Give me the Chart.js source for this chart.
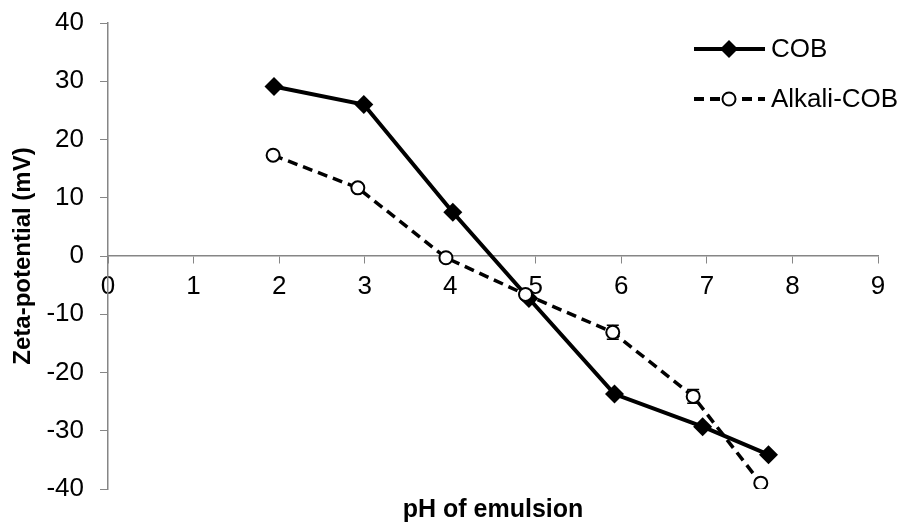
<!DOCTYPE html>
<html lang="en">
  <head>
    <meta charset="UTF-8" />
    <title>Zeta-potential vs pH</title>
    <script src="https://cdn.jsdelivr.net/npm/chart.js"></script>
    <style>
      html, body { margin: 0; padding: 0; background: #fff; }
      .wrap { width: 905px; height: 524px; position: relative; }
    </style>
  </head>
  <body>
    <div class="wrap"><canvas id="zeta"></canvas></div>
    <script>
      // data
      const seriesNames = ["COB", "Alkali-COB"]
      const phCOB = [1.94, 2.99, 4.03, 4.92, 5.92, 6.95, 7.72]
      const zetaCOB = [29.1, 26.0, 7.5, -7.3, -23.7, -29.3, -34.1]
      const phAlkali = [1.93, 2.92, 3.95, 4.88, 5.90, 6.84, 7.63]
      const zetaAlkali = [17.3, 11.7, -0.3, -6.6, -13.1, -24.1, -39.0]
      const errAlkali = [0, 0, 0, 0, 1.2, 1.2, 0]
      const xTicks = [0, 1, 2, 3, 4, 5, 6, 7, 8, 9]
      const yTicks = [-40, -30, -20, -10, 0, 10, 20, 30, 40]

      const axisGray = "#868686"
      const FONT = "'Liberation Sans', Arial, sans-serif"

      const toPoints = (xs, ys) => xs.map((x, i) => ({ x, y: ys[i] }))

      // small vertical error bars with caps
      const errorBars = {
        id: "errorBars",
        beforeDatasetsDraw(chart) {
          const { ctx, scales } = chart
          ctx.save()
          ctx.strokeStyle = "#000"
          ctx.lineWidth = 1.5
          phAlkali.forEach((x, i) => {
            const e = errAlkali[i]
            if (!e) return
            const px = scales.x.getPixelForValue(x)
            const top = scales.y.getPixelForValue(zetaAlkali[i] + e)
            const bot = scales.y.getPixelForValue(zetaAlkali[i] - e)
            ctx.beginPath()
            ctx.moveTo(px, top); ctx.lineTo(px, bot)
            ctx.moveTo(px - 6, top); ctx.lineTo(px + 6, top)
            ctx.moveTo(px - 6, bot); ctx.lineTo(px + 6, bot)
            ctx.stroke()
          })
          ctx.restore()
        },
      }

      // x title at the bottom + legend with line samples
      const extras = {
        id: "extras",
        afterDraw(chart) {
          const { ctx, chartArea } = chart
          ctx.save()
          ctx.fillStyle = "#000"
          ctx.font = "bold 25px " + FONT
          ctx.textAlign = "center"
          ctx.textBaseline = "middle"
          ctx.fillText("pH of emulsion", (chartArea.left + chartArea.right) / 2, 510)

          const rows = [
            { y: 49, dash: [], marker: "diamond" },
            { y: 99, dash: [10, 6], marker: "circle" },
          ]
          rows.forEach((r, i) => {
            const x0 = 694, x1 = 765, cx = 729
            ctx.strokeStyle = "#000"
            ctx.lineWidth = 4
            ctx.setLineDash(r.dash)
            ctx.beginPath()
            ctx.moveTo(x0, r.y); ctx.lineTo(x1, r.y)
            ctx.stroke()
            ctx.setLineDash([])
            if (r.marker === "diamond") {
              ctx.fillStyle = "#000"
              ctx.beginPath()
              ctx.moveTo(cx, r.y - 9); ctx.lineTo(cx + 9, r.y)
              ctx.lineTo(cx, r.y + 9); ctx.lineTo(cx - 9, r.y)
              ctx.closePath(); ctx.fill()
            } else {
              ctx.fillStyle = "#fff"
              ctx.lineWidth = 2
              ctx.beginPath()
              ctx.arc(cx, r.y, 6.5, 0, Math.PI * 2)
              ctx.fill(); ctx.stroke()
            }
            ctx.fillStyle = "#000"
            ctx.font = "26px " + FONT
            ctx.textAlign = "left"
            ctx.fillText(seriesNames[i], 771, r.y + 1)
          })
          ctx.restore()
        },
      }

      new Chart(document.getElementById("zeta"), {
        type: "scatter",
        data: {
          datasets: [
            {
              label: seriesNames[0],
              data: toPoints(phCOB, zetaCOB),
              showLine: true,
              borderColor: "#000",
              backgroundColor: "#000",
              borderWidth: 4,
              pointStyle: "rectRot",
              pointRadius: 9.5,
              pointBorderWidth: 0,
              order: 1,
            },
            {
              label: seriesNames[1],
              data: toPoints(phAlkali, zetaAlkali),
              showLine: true,
              borderColor: "#000",
              borderDash: [10, 6],
              borderWidth: 3.5,
              pointStyle: "circle",
              pointRadius: 6.5,
              pointBackgroundColor: "#fff",
              pointBorderColor: "#000",
              pointBorderWidth: 2,
              order: 0,
            },
          ],
        },
        options: {
          responsive: true,
          maintainAspectRatio: false,
          animation: false,
          layout: { padding: { left: 0, top: 23, right: 27, bottom: 35 } },
          plugins: { legend: { display: false }, tooltip: { enabled: false } },
          scales: {
            x: {
              type: "linear",
              position: { y: 0 },
              min: 0,
              max: 9,
              afterBuildTicks: (s) => { s.ticks = xTicks.map((v) => ({ value: v })) },
              afterFit: (s) => { s.paddingLeft = 0; s.paddingRight = 0; s.paddingTop = 0; s.paddingBottom = 0 },
              ticks: { color: "#000", font: { family: FONT, size: 26 }, padding: 8 },
              grid: { drawOnChartArea: false, drawTicks: true, tickLength: 7, color: axisGray },
              border: { color: axisGray, width: 1.5 },
            },
            y: {
              min: -40,
              max: 40,
              afterBuildTicks: (s) => { s.ticks = yTicks.map((v) => ({ value: v })) },
              afterFit: (s) => { s.width = 108; s.paddingTop = 0; s.paddingBottom = 0 },
              ticks: { color: "#000", font: { family: FONT, size: 26 }, padding: 16 },
              grid: { drawOnChartArea: false, drawTicks: true, tickLength: 8, color: axisGray },
              border: { color: axisGray, width: 1.5 },
              title: {
                display: true,
                text: "Zeta-potential (mV)",
                color: "#000",
                font: { family: FONT, size: 24, weight: "bold" },
                padding: { top: 9, bottom: 0 },
              },
            },
          },
        },
        plugins: [errorBars, extras],
      })
    </script>
  </body>
</html>
